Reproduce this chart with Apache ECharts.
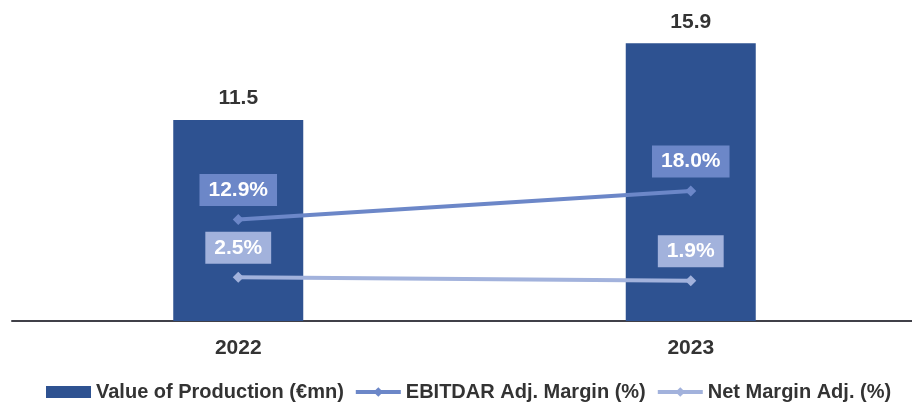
<!DOCTYPE html>
<html>
<head>
<meta charset="utf-8">
<script src="https://cdn.jsdelivr.net/npm/echarts@6/dist/echarts.min.js"></script>
<style>
  html, body { margin: 0; padding: 0; background: #ffffff; }
  #chart { width: 912px; height: 404px; }
</style>
</head>
<body>
<div id="chart"></div>
<script>
// Years on the category axis
const years = ['2022', '2023'];
// Value of Production, € millions
const valueOfProduction = [11.5, 15.9];
// Margins, percent
const ebitdarMargin = [12.9, 18.0];
const netMargin = [2.5, 1.9];

const FONT = '"Liberation Sans", Arial, sans-serif';
const BAR_COLOR = '#2e5291';
const EBITDAR_COLOR = '#6c87c8';
const NET_COLOR = '#a2b2dc';
const TEXT_COLOR = '#333333';

const pctLabel = (bg) => ({
  show: true,
  position: 'top',
  distance: 8,
  formatter: (p) => p.value.toFixed(1) + '%',
  color: '#ffffff',
  fontFamily: FONT,
  fontWeight: 'bold',
  fontSize: 21,
  lineHeight: 24,
  backgroundColor: bg,
  padding: [4, 9, 4, 9]
});

const chart = echarts.init(document.getElementById('chart'), null, { renderer: 'canvas' });
chart.setOption({
  animation: false,
  backgroundColor: '#ffffff',
  textStyle: { fontFamily: FONT },
  grid: {
    left: 12, width: 905, top: 20, bottom: 83,
    containLabel: false,
    outerBoundsMode: 'none'
  },
  legend: {
    left: 46,
    top: 382,
    padding: 0,
    itemGap: 10,
    itemWidth: 45,
    itemHeight: 12,
    lineStyle: { width: 4 },
    textStyle: { fontFamily: FONT, fontWeight: 'bold', fontSize: 20, color: TEXT_COLOR },
    data: [
      { name: 'Value of Production (€mn)', icon: 'rect', itemStyle: { borderWidth: 0 } },
      { name: 'EBITDAR Adj. Margin (%)' },
      { name: 'Net Margin Adj. (%)' }
    ]
  },
  xAxis: {
    type: 'category',
    data: years,
    axisLine: { show: true, lineStyle: { color: '#404048', width: 2 } },
    axisTick: { show: false },
    axisLabel: {
      margin: 17,
      color: TEXT_COLOR,
      fontFamily: FONT,
      fontWeight: 'bold',
      fontSize: 21
    }
  },
  yAxis: [
    { type: 'value', min: 0, max: 17.23, show: false, splitLine: { show: false } },
    { type: 'value', min: -5.33, max: 48.67, show: false, splitLine: { show: false } }
  ],
  series: [
    {
      name: 'Value of Production (€mn)',
      type: 'bar',
      yAxisIndex: 0,
      data: valueOfProduction,
      barWidth: 130,
      itemStyle: { color: BAR_COLOR },
      label: {
        show: true,
        position: 'top',
        distance: 11,
        formatter: (p) => p.value.toFixed(1),
        color: TEXT_COLOR,
        fontFamily: FONT,
        fontWeight: 'bold',
        fontSize: 21
      }
    },
    {
      name: 'EBITDAR Adj. Margin (%)',
      type: 'line',
      yAxisIndex: 1,
      data: ebitdarMargin,
      symbol: 'diamond',
      symbolSize: 11,
      lineStyle: { color: EBITDAR_COLOR, width: 4 },
      itemStyle: { color: EBITDAR_COLOR },
      label: pctLabel(EBITDAR_COLOR)
    },
    {
      name: 'Net Margin Adj. (%)',
      type: 'line',
      yAxisIndex: 1,
      data: netMargin,
      symbol: 'diamond',
      symbolSize: 11,
      lineStyle: { color: NET_COLOR, width: 4 },
      itemStyle: { color: NET_COLOR },
      label: pctLabel(NET_COLOR)
    }
  ]
});
</script>
</body>
</html>
